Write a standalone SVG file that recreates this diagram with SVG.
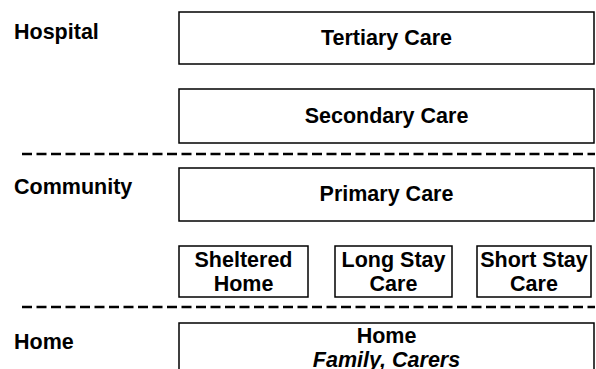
<svg xmlns="http://www.w3.org/2000/svg" width="596" height="369" viewBox="0 0 596 369">
<style>
.box{fill:#fff;stroke:#000;stroke-width:1.5}
.t{font-family:"Liberation Sans",Arial,sans-serif;font-weight:bold;font-size:21.5px;fill:#000}
.c{text-anchor:middle}
.i{font-style:italic}
.sep{stroke:#000;stroke-width:2.5;stroke-dasharray:10 4.5;fill:none}
</style>
<rect width="596" height="369" fill="#fff"/>
<g id="labels">
<text class="t" x="14" y="39">Hospital</text>
<text class="t" x="14" y="194">Community</text>
<text class="t" x="14" y="349">Home</text>
</g>
<g id="separators">
<line class="sep" x1="22" y1="154" x2="595" y2="154"/>
<line class="sep" x1="22" y1="307" x2="595" y2="307"/>
</g>
<g id="tertiary"><rect class="box" x="179" y="12" width="415" height="52"/><text class="t c" x="386.5" y="45">Tertiary Care</text></g>
<g id="secondary"><rect class="box" x="179" y="89" width="415" height="54"/><text class="t c" x="386.5" y="123">Secondary Care</text></g>
<g id="primary"><rect class="box" x="179" y="168" width="415" height="53"/><text class="t c" x="386.5" y="201">Primary Care</text></g>
<g id="sheltered"><rect class="box" x="179" y="246" width="129" height="51"/><text class="t c" x="243.5" y="267">Sheltered</text><text class="t c" x="243.5" y="291">Home</text></g>
<g id="longstay"><rect class="box" x="335" y="246" width="117" height="51"/><text class="t c" x="393.5" y="267">Long Stay</text><text class="t c" x="393.5" y="291">Care</text></g>
<g id="shortstay"><rect class="box" x="477" y="246" width="114" height="51"/><text class="t c" x="534" y="267">Short Stay</text><text class="t c" x="534" y="291">Care</text></g>
<g id="home"><rect class="box" x="179" y="323" width="415" height="60"/><text class="t c" x="386.5" y="343">Home</text><text class="t c i" x="386.5" y="367">Family, Carers</text></g>
<g id="connectors"></g>
</svg>
